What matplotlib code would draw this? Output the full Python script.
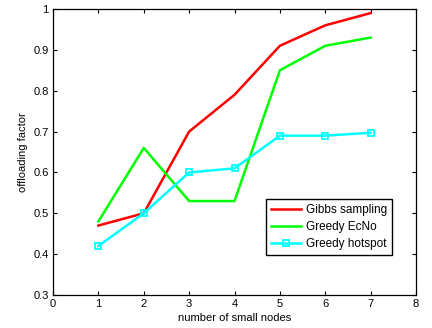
import matplotlib
matplotlib.use("Agg")
import matplotlib.pyplot as plt

nodes = [1, 2, 3, 4, 5, 6, 7]
gibbs = [0.47, 0.50, 0.70, 0.79, 0.91, 0.96, 0.99]
ecno = [0.48, 0.66, 0.53, 0.53, 0.85, 0.91, 0.93]
hotspot = [0.42, 0.50, 0.60, 0.61, 0.69, 0.69, 0.697]

plt.rcParams['font.family'] = ['Liberation Sans', 'DejaVu Sans']
plt.rcParams['font.size'] = 8

fig = plt.figure(figsize=(4.32, 3.28), dpi=100)
ax = fig.add_axes([0.1227, 0.1006, 0.8403, 0.872])

ax.plot(nodes, gibbs, color='#ff0000', lw=1.8, label='Gibbs sampling')
ax.plot(nodes, ecno, color='#00ff00', lw=1.8, label='Greedy EcNo')
ax.plot(nodes, hotspot, color='#00ffff', lw=1.8, marker='s', ms=5,
        mfc='none', mec='#00ffff', mew=1.3, label='Greedy hotspot')

ax.set_xlim(0, 8)
ax.set_ylim(0.3, 1.0)
ax.set_xticks(range(0, 9))
ax.set_yticks([0.3, 0.4, 0.5, 0.6, 0.7, 0.8, 0.9, 1.0])
ax.set_yticklabels(['0.3', '0.4', '0.5', '0.6', '0.7', '0.8', '0.9', '1'])
ax.tick_params(direction='in', top=True, right=True, length=3, width=0.8, pad=3)
for s in ax.spines.values():
    s.set_linewidth(0.9)

ax.set_xlabel('number of small nodes', labelpad=2.5)
ax.set_ylabel('offloading factor', labelpad=4)

leg = ax.legend(loc='lower right', bbox_to_anchor=(0.934, 0.14), fancybox=False,
                edgecolor='black', framealpha=1, borderpad=0.45, labelspacing=0.4,
                handlelength=2.5, handletextpad=0.4, borderaxespad=0, fontsize=8.5)
leg.get_frame().set_linewidth(1.0)

fig.savefig('out.png', dpi=100)
